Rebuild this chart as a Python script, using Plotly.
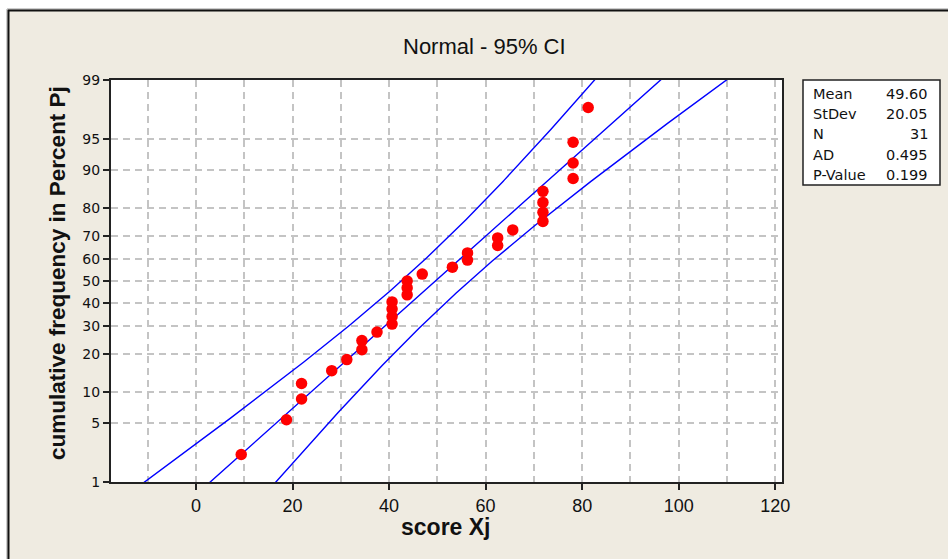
import numpy as np
import plotly.graph_objects as go
from statistics import NormalDist

# Scores (sorted) and summary statistics
scores = [9.375, 18.75, 21.875, 21.875, 28.125, 31.25, 34.375, 34.375, 37.5,
          40.625, 40.625, 40.625, 40.625, 43.75, 43.75, 43.75, 46.875,
          53.125, 56.25, 56.25, 62.5, 62.5, 65.625, 71.875, 71.875, 71.875,
          71.875, 78.125, 78.125, 78.125, 81.25]
mean_val = 49.60
std_val = 20.05
n_val = 31
ad_val = 0.495
p_val = 0.199

pct_ticks = [1, 5, 10, 20, 30, 40, 50, 60, 70, 80, 90, 95, 99]
x_ticks = [0, 20, 40, 60, 80, 100, 120]

nd = NormalDist()
z_ticks = [nd.inv_cdf(p / 100) for p in pct_ticks]
n = len(scores)
z_pts = [nd.inv_cdf((i - 0.3) / (n + 0.4)) for i in range(1, n + 1)]

# Fitted line and 95% confidence band on percentiles
zmin, zmax = nd.inv_cdf(0.01), nd.inv_cdf(0.99)
zg = np.linspace(zmin - 0.05, zmax + 0.6, 300)
xfit = mean_val + std_val * zg
half = 1.959964 * std_val * np.sqrt(1 / n_val + zg ** 2 / (2 * n_val))

line_col = "#0000FF"
fig = go.Figure()
fig.add_trace(go.Scatter(x=xfit - half, y=zg, mode="lines",
                         line=dict(color=line_col, width=1.4), hoverinfo="skip"))
fig.add_trace(go.Scatter(x=xfit, y=zg, mode="lines",
                         line=dict(color=line_col, width=1.4), hoverinfo="skip"))
fig.add_trace(go.Scatter(x=xfit + half, y=zg, mode="lines",
                         line=dict(color=line_col, width=1.4), hoverinfo="skip"))
fig.add_trace(go.Scatter(x=scores, y=z_pts, mode="markers",
                         marker=dict(color="#FF0000", size=11.5, symbol="circle")))

L, R, T, B = 111, 166, 80, 77
W, H = 948, 559
pw, ph = W - L - R, H - T - B


def px_x(px):
    return (px - L) / pw


def px_y(py):
    return (H - B - py) / ph


grid = dict(color="#C4C4C4", width=1.5, dash="7px,5px")
fig.update_layout(
    width=W, height=H,
    margin=dict(l=L, r=R, t=T, b=B),
    paper_bgcolor="#EFEBE1",
    plot_bgcolor="#FFFFFF",
    showlegend=False,
    xaxis=dict(
        range=[-17.6, 121.4], tickvals=x_ticks, ticks="outside", ticklen=6,
        tickcolor="#222", tickwidth=1.5,
        showgrid=True, gridcolor=grid["color"], gridwidth=grid["width"], griddash=grid["dash"],
        minor=dict(dtick=10, tick0=0, showgrid=True, gridcolor=grid["color"],
                   gridwidth=grid["width"], griddash=grid["dash"], ticks=""),
        showline=True, linecolor="#222", linewidth=2, mirror=True, zeroline=False,
        tickfont=dict(family="Liberation Sans", size=18, color="#111"),
    ),
    yaxis=dict(
        range=[zmin, zmax], tickvals=z_ticks, ticktext=[str(p) for p in pct_ticks],
        ticks="outside", ticklen=6, tickcolor="#222", tickwidth=1.5,
        showgrid=True, gridcolor=grid["color"], gridwidth=grid["width"], griddash=grid["dash"],
        showline=True, linecolor="#222", linewidth=2, mirror=True, zeroline=False,
        tickfont=dict(family="DejaVu Sans", size=14, color="#111"),
    ),
)

shapes = [
    # outer frame: white margin strips and dark border lines
    dict(type="rect", xref="paper", yref="paper", x0=px_x(-5), x1=px_x(W + 5),
         y0=px_y(9.5), y1=px_y(-5), fillcolor="white", line=dict(width=0)),
    dict(type="rect", xref="paper", yref="paper", x0=px_x(-5), x1=px_x(7.5),
         y0=px_y(H + 5), y1=px_y(-5), fillcolor="white", line=dict(width=0)),
    dict(type="line", xref="paper", yref="paper", x0=px_x(7), x1=px_x(W + 5),
         y0=px_y(9), y1=px_y(9), line=dict(color="#9A9A9A", width=1)),
    dict(type="line", xref="paper", yref="paper", x0=px_x(8), x1=px_x(W + 5),
         y0=px_y(10.5), y1=px_y(10.5), line=dict(color="#111", width=2)),
    dict(type="line", xref="paper", yref="paper", x0=px_x(7), x1=px_x(7),
         y0=px_y(9), y1=px_y(H + 5), line=dict(color="#9A9A9A", width=1)),
    dict(type="line", xref="paper", yref="paper", x0=px_x(8.5), x1=px_x(8.5),
         y0=px_y(10), y1=px_y(H + 5), line=dict(color="#111", width=2)),
    # statistics box
    dict(type="rect", xref="paper", yref="paper", x0=px_x(803), x1=px_x(940),
         y0=px_y(185), y1=px_y(80), fillcolor="white", line=dict(color="#222", width=1.5)),
]
fig.update_layout(shapes=shapes)

annotations = [
    dict(text="Normal - 95% CI", x=px_x(485), y=px_y(46), xref="paper", yref="paper",
         xanchor="center", yanchor="middle", showarrow=False,
         font=dict(family="Liberation Sans", size=22, color="#111")),
    dict(text="<b>cumulative frequency in Percent Pj</b>", x=px_x(57), y=px_y(273),
         xref="paper", yref="paper", xanchor="center", yanchor="middle",
         showarrow=False, textangle=-90,
         font=dict(family="Liberation Sans", size=22.5, color="#111")),
    dict(text="<b>score Xj</b>", x=px_x(446), y=px_y(527), xref="paper", yref="paper",
         xanchor="center", yanchor="middle", showarrow=False,
         font=dict(family="Liberation Sans", size=23, color="#111")),
]
stat_labels = ["Mean", "StDev", "N", "AD", "P-Value"]
stat_values = [f"{mean_val:.2f}", f"{std_val:.2f}", f"{n_val}", f"{ad_val:.3f}", f"{p_val:.3f}"]
row_y = [94, 114, 134, 155, 175]
for lab, val, ry in zip(stat_labels, stat_values, row_y):
    annotations.append(dict(text=lab, x=px_x(811), y=px_y(ry), xref="paper", yref="paper",
                            xanchor="left", yanchor="middle", showarrow=False,
                            font=dict(family="DejaVu Sans", size=14.5, color="#111")))
    annotations.append(dict(text=val, x=px_x(930), y=px_y(ry), xref="paper", yref="paper",
                            xanchor="right", yanchor="middle", showarrow=False,
                            font=dict(family="DejaVu Sans", size=14.5, color="#111")))
fig.update_layout(annotations=annotations)

fig.write_html("out.html")
